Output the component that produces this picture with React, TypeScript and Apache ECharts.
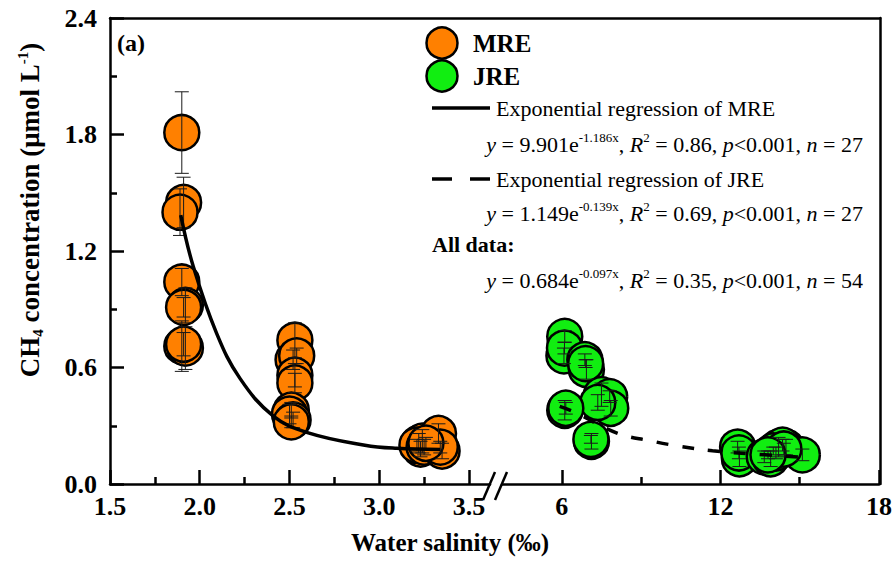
import React, { useEffect, useRef } from "react";
import * as echarts from "echarts";

const FONT = '"Liberation Serif", "Times New Roman", serif';

// MRE samples (salinity ‰, CH4 µmol/L, error)
const mreX = [1.90, 1.91, 1.89, 1.90, 1.92, 1.91, 1.90, 1.92, 1.91, 2.53, 2.52, 2.54, 2.53, 2.53, 2.51, 2.50, 2.52, 2.51, 3.22, 3.23, 3.24, 3.21, 3.25, 3.33, 3.35, 3.34, 3.26];
const mreY = [1.81, 1.45, 1.40, 1.04, 0.92, 0.91, 0.71, 0.70, 0.72, 0.74, 0.64, 0.66, 0.56, 0.52, 0.38, 0.36, 0.33, 0.32, 0.21, 0.18, 0.22, 0.20, 0.19, 0.26, 0.17, 0.19, 0.21];
const mreErr = [0.21, 0.13, 0.12, 0.07, 0.09, 0.05, 0.13, 0.11, 0.06, 0.09, 0.05, 0.04, 0.06, 0.05, 0.04, 0.05, 0.04, 0.03, 0.05, 0.04, 0.06, 0.03, 0.04, 0.05, 0.04, 0.03, 0.03];

// JRE samples
const jreX = [6.11, 6.08, 6.10, 6.87, 6.93, 6.90, 7.50, 7.81, 7.85, 7.36, 6.11, 6.15, 7.12, 7.10, 12.65, 12.72, 12.70, 13.66, 13.90, 14.20, 14.48, 14.35, 14.10, 15.10, 14.00, 14.40, 13.80];
const jreY = [0.76, 0.66, 0.70, 0.64, 0.59, 0.62, 0.46, 0.45, 0.39, 0.42, 0.38, 0.39, 0.22, 0.23, 0.19, 0.13, 0.16, 0.14, 0.13, 0.19, 0.19, 0.20, 0.16, 0.15, 0.17, 0.18, 0.15];
const jreErr = [0.03, 0.04, 0.03, 0.03, 0.05, 0.02, 0.06, 0.03, 0.04, 0.04, 0.05, 0.03, 0.04, 0.02, 0.03, 0.04, 0.03, 0.03, 0.04, 0.05, 0.04, 0.03, 0.03, 0.03, 0.02, 0.03, 0.02];

// Regression curves
const mreFitX = [1.894, 1.964, 2.094, 2.224, 2.41, 2.6, 2.92, 3.097, 3.34];
const mreFitY = [1.385, 1.12, 0.776, 0.544, 0.35, 0.265, 0.20, 0.184, 0.178];
const jreFitX = [5.92, 6.49, 8.11, 9.32, 10.39, 11.7, 13.0, 15.1];
const jreFitY = [0.40, 0.37, 0.261, 0.223, 0.196, 0.171, 0.157, 0.138];

// Axis ticks
const xLeftTicks = [1.5, 2.0, 2.5, 3.0, 3.5];
const xLeftMinor = [1.75, 2.25, 2.75, 3.25];
const xRightTicks = [6, 12, 18];
const xRightMinor = [9, 15];

const ORANGE = "#FF8000";
const GREEN = "#11EE11";

const pts = (xs: number[], ys: number[], es?: number[]) =>
  xs.map((x, i) => (es ? [x, ys[i], es[i]] : [x, ys[i]]));

const errRender = (params: any, api: any) => {
  const x = api.value(0);
  const y = api.value(1);
  const e = api.value(2);
  const t = api.coord([x, y + e]);
  const b = api.coord([x, y - e]);
  const hw = 7;
  const st = { stroke: "#1a1a1a", lineWidth: 1 };
  return {
    type: "group",
    children: [
      { type: "line", shape: { x1: t[0], y1: t[1], x2: b[0], y2: b[1] }, style: st },
      { type: "line", shape: { x1: t[0] - hw, y1: t[1], x2: t[0] + hw, y2: t[1] }, style: st },
      { type: "line", shape: { x1: b[0] - hw, y1: b[1], x2: b[0] + hw, y2: b[1] }, style: st },
    ],
  };
};

const axisLineStyle = { color: "#000", width: 2.5 };
const labelStyle = {
  fontFamily: FONT,
  fontSize: 26,
  fontWeight: "bold" as const,
  color: "#000",
};

const GT = 18;
const GH = 466;

export default function App() {
  const ref = useRef<HTMLDivElement>(null);
  useEffect(() => {
    if (!ref.current) return;
    const chart = echarts.init(ref.current, undefined, { renderer: "svg" });
    const eqRich = {
      n: { fontFamily: FONT, fontSize: 22, color: "#000", lineHeight: 26 },
      i: { fontFamily: FONT, fontSize: 22, fontStyle: "italic", color: "#000", lineHeight: 26 },
      s: { fontFamily: FONT, fontSize: 13, color: "#000", verticalAlign: "top" },
    };
    const eq = (a: string, b: string, r2: string, n: string) =>
      `{i|y}{n| = ${a}e}{s|${b}}{n|, }{i|R}{s|2}{n| = ${r2}, }{i|p}{n|<0.001, }{i|n}{n| = ${n}}`;

    const option: any = {
      animation: false,
      backgroundColor: "#fff",
      grid: [
        { left: 110, top: GT, width: 380, height: GH },
        { left: 502, top: GT, width: 378, height: GH },
        { left: 110, top: GT, width: 770, height: GH },
      ],
      xAxis: [
        {
          gridIndex: 0, type: "value", min: 1.5, max: 3.617, position: "bottom",
          axisLine: { onZero: false, lineStyle: axisLineStyle },
          axisTick: { inside: true, length: 14, lineStyle: axisLineStyle, customValues: xLeftTicks },
          axisLabel: { ...labelStyle, margin: 9, customValues: xLeftTicks, formatter: (v: number) => v.toFixed(1) },
          splitLine: { show: false },
        },
        {
          gridIndex: 0, type: "value", min: 1.5, max: 3.617, position: "bottom",
          axisLine: { show: false, onZero: false },
          axisTick: { inside: true, length: 7, lineStyle: axisLineStyle, customValues: xLeftMinor },
          axisLabel: { show: false },
          splitLine: { show: false },
        },
        {
          gridIndex: 1, type: "value", min: 3.736, max: 18, position: "bottom",
          axisLine: { onZero: false, lineStyle: axisLineStyle },
          axisTick: { inside: true, length: 14, lineStyle: axisLineStyle, customValues: xRightTicks },
          axisLabel: { ...labelStyle, margin: 9, customValues: xRightTicks, formatter: (v: number) => String(v) },
          splitLine: { show: false },
        },
        {
          gridIndex: 1, type: "value", min: 3.736, max: 18, position: "bottom",
          axisLine: { show: false, onZero: false },
          axisTick: { inside: true, length: 7, lineStyle: axisLineStyle, customValues: xRightMinor },
          axisLabel: { show: false },
          splitLine: { show: false },
        },
        {
          gridIndex: 2, type: "value", min: 0, max: 1, position: "top",
          axisLine: { onZero: false, lineStyle: axisLineStyle },
          axisTick: { show: false }, axisLabel: { show: false }, splitLine: { show: false },
        },
      ],
      yAxis: [
        {
          gridIndex: 0, type: "value", min: 0, max: 2.4, interval: 0.6,
          axisLine: { onZero: false, lineStyle: axisLineStyle },
          axisTick: { inside: true, length: 14, lineStyle: axisLineStyle },
          minorTick: { show: true, splitNumber: 2, length: 7, lineStyle: axisLineStyle },
          axisLabel: { ...labelStyle, margin: 13, formatter: (v: number) => v.toFixed(1) },
          splitLine: { show: false }, minorSplitLine: { show: false },
        },
        { gridIndex: 1, type: "value", min: 0, max: 2.4, show: false },
        {
          gridIndex: 2, type: "value", min: 0, max: 1, position: "right",
          axisLine: { onZero: false, lineStyle: axisLineStyle },
          axisTick: { show: false }, axisLabel: { show: false }, splitLine: { show: false },
        },
      ],
      series: [
        {
          name: "MRE", type: "scatter", xAxisIndex: 0, yAxisIndex: 0, z: 2,
          data: pts(mreX, mreY), symbolSize: 35,
          itemStyle: { color: ORANGE, borderColor: "#000", borderWidth: 2.5, opacity: 1 },
        },
        {
          type: "custom", xAxisIndex: 0, yAxisIndex: 0, z: 3,
          data: pts(mreX, mreY, mreErr), renderItem: errRender, encode: { x: 0, y: 1 },
        },
        {
          type: "line", xAxisIndex: 0, yAxisIndex: 0, z: 4, smooth: 0.4, showSymbol: false,
          data: pts(mreFitX, mreFitY), lineStyle: { color: "#000", width: 3.5 },
        },
        {
          name: "JRE", type: "scatter", xAxisIndex: 2, yAxisIndex: 1, z: 2,
          data: pts(jreX, jreY), symbolSize: 35,
          itemStyle: { color: GREEN, borderColor: "#000", borderWidth: 2.5, opacity: 1 },
        },
        {
          type: "custom", xAxisIndex: 2, yAxisIndex: 1, z: 3,
          data: pts(jreX, jreY, jreErr), renderItem: errRender, encode: { x: 0, y: 1 },
        },
        {
          type: "line", xAxisIndex: 2, yAxisIndex: 1, z: 4, smooth: 0.4, showSymbol: false,
          data: pts(jreFitX, jreFitY), lineStyle: { color: "#000", width: 3.5, type: [12, 14] },
        },
      ],
      graphic: [
        // axis break marks
        { type: "line", shape: { x1: 483, y1: 500, x2: 495, y2: 472 }, style: { stroke: "#000", lineWidth: 2.5 } },
        { type: "line", shape: { x1: 495, y1: 500, x2: 507, y2: 472 }, style: { stroke: "#000", lineWidth: 2.5 } },
        // panel label
        { type: "text", x: 117, y: 43, style: { text: "(a)", fontFamily: FONT, fontSize: 24, fontWeight: "bold", fill: "#000", verticalAlign: "middle" } },
        // axis titles
        {
          type: "text", x: 450, y: 542,
          style: { text: "Water salinity (‰)", fontFamily: FONT, fontSize: 25, fontWeight: "bold", fill: "#000", align: "center", verticalAlign: "middle" },
        },
        {
          type: "text", x: 30, y: 210, rotation: Math.PI / 2,
          style: {
            text: "{b|CH}{sub|4}{b| concentration (μmol L}{sup|-1}{b|)}",
            align: "center", verticalAlign: "middle",
            rich: {
              b: { fontFamily: FONT, fontSize: 27, fontWeight: "bold", color: "#000", lineHeight: 30 },
              sub: { fontFamily: FONT, fontSize: 15, fontWeight: "bold", color: "#000", verticalAlign: "bottom" },
              sup: { fontFamily: FONT, fontSize: 15, fontWeight: "bold", color: "#000", verticalAlign: "top" },
            },
          },
        },
        // legend
        { type: "circle", shape: { cx: 442, cy: 43, r: 15.5 }, style: { fill: ORANGE, stroke: "#000", lineWidth: 2.5 } },
        { type: "text", x: 473, y: 43, style: { text: "MRE", fontFamily: FONT, fontSize: 25, fontWeight: "bold", fill: "#000", verticalAlign: "middle" } },
        { type: "circle", shape: { cx: 442, cy: 76, r: 15.5 }, style: { fill: GREEN, stroke: "#000", lineWidth: 2.5 } },
        { type: "text", x: 473, y: 76, style: { text: "JRE", fontFamily: FONT, fontSize: 25, fontWeight: "bold", fill: "#000", verticalAlign: "middle" } },
        { type: "line", shape: { x1: 432, y1: 108, x2: 490, y2: 108 }, style: { stroke: "#000", lineWidth: 3.5 } },
        { type: "text", x: 496, y: 108, style: { text: "Exponential regression of MRE", fontFamily: FONT, fontSize: 22, fill: "#000", verticalAlign: "middle" } },
        { type: "text", x: 863, y: 144, style: { text: eq("9.901", "-1.186x", "0.86", "27"), rich: eqRich, align: "right", verticalAlign: "middle" } },
        { type: "line", shape: { x1: 432, y1: 179, x2: 452, y2: 179 }, style: { stroke: "#000", lineWidth: 3.5 } },
        { type: "line", shape: { x1: 470, y1: 179, x2: 490, y2: 179 }, style: { stroke: "#000", lineWidth: 3.5 } },
        { type: "text", x: 496, y: 179, style: { text: "Exponential regression of JRE", fontFamily: FONT, fontSize: 22, fill: "#000", verticalAlign: "middle" } },
        { type: "text", x: 863, y: 213, style: { text: eq("1.149", "-0.139x", "0.69", "27"), rich: eqRich, align: "right", verticalAlign: "middle" } },
        { type: "text", x: 432, y: 244, style: { text: "All data:", fontFamily: FONT, fontSize: 22, fontWeight: "bold", fill: "#000", verticalAlign: "middle" } },
        { type: "text", x: 863, y: 280, style: { text: eq("0.684", "-0.097x", "0.35", "54"), rich: eqRich, align: "right", verticalAlign: "middle" } },
      ],
    };
    chart.setOption(option);
    return () => chart.dispose();
  }, []);
  return (
    <div
      ref={ref}
      style={{ position: "absolute", left: 0, top: 0, width: 895, height: 561, background: "#fff" }}
    />
  );
}
